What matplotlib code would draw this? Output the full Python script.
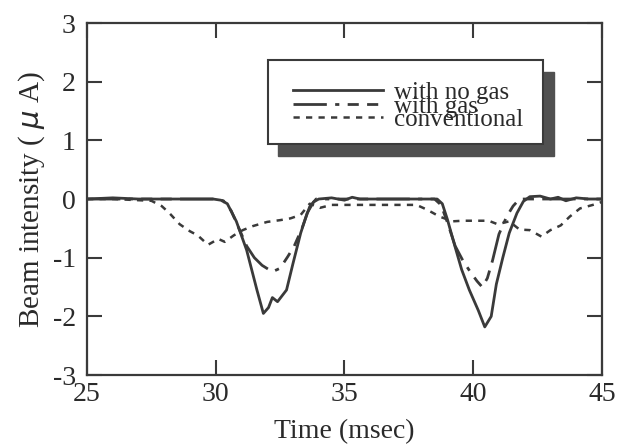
#!/usr/bin/env python3

import matplotlib
matplotlib.use("Agg")
import matplotlib.pyplot as plt
import matplotlib.patches as patches

# data (time in msec, beam intensity in uA)
t_nogas = [25.0, 26.0, 27.0, 28.0, 29.0, 29.9, 30.2, 30.45, 30.8, 31.2, 31.6,
           31.85, 32.05, 32.2, 32.4, 32.75, 33.0, 33.3, 33.55, 33.8, 34.0,
           34.5, 35.0, 35.3, 35.6, 36.0, 37.0, 38.0, 38.6, 38.8, 39.0, 39.3,
           39.55, 39.85, 40.2, 40.45, 40.7, 40.9, 41.15, 41.4, 41.7, 41.95,
           42.2, 42.6, 43.0, 43.3, 43.6, 44.0, 44.5, 45.0]
y_nogas = [0.0, 0.02, 0.0, 0.0, 0.0, 0.0, -0.02, -0.08, -0.38, -0.87, -1.55,
           -1.95, -1.85, -1.68, -1.75, -1.55, -1.1, -0.58, -0.24, -0.05, 0.0,
           0.02, -0.02, 0.03, 0.0, 0.0, 0.0, 0.0, 0.0, -0.08, -0.35, -0.82,
           -1.2, -1.55, -1.9, -2.18, -2.0, -1.45, -1.0, -0.58, -0.24, -0.04,
           0.04, 0.05, 0.0, 0.03, -0.03, 0.02, 0.0, 0.0]

t_gas = [25.0, 30.0, 30.3, 30.6, 30.9, 31.2, 31.5, 31.8, 32.2, 32.5, 32.8,
         33.05, 33.35, 33.65, 33.9, 35.0, 38.5, 38.75, 39.0, 39.3, 39.6, 39.9,
         40.15, 40.35, 40.55, 40.75, 41.0, 41.3, 41.55, 41.8, 45.0]
y_gas = [0.0, 0.0, -0.03, -0.2, -0.5, -0.8, -1.0, -1.13, -1.24, -1.18, -0.98,
         -0.8, -0.5, -0.13, 0.0, 0.0, 0.0, -0.1, -0.4, -0.8, -1.05, -1.25,
         -1.4, -1.5, -1.35, -1.05, -0.6, -0.3, -0.12, 0.0, 0.0]

t_conv = [25.0, 26.0, 27.0, 27.5, 27.9, 28.2, 28.6, 29.0, 29.3, 29.7, 30.1,
          30.35, 30.7, 31.05, 31.45, 32.0, 32.5, 32.9, 33.3, 33.65, 34.05,
          34.5, 35.0, 36.0, 37.0, 37.8, 38.2, 38.7, 39.2, 39.6, 40.0, 40.6,
          40.95, 41.4, 41.8, 42.2, 42.65, 43.0, 43.4, 43.75, 44.15, 44.65, 45.0]
y_conv = [0.0, 0.0, -0.02, -0.03, -0.12, -0.24, -0.43, -0.55, -0.62, -0.78,
          -0.68, -0.73, -0.62, -0.53, -0.46, -0.39, -0.36, -0.33, -0.27, -0.08,
          -0.15, -0.1, -0.1, -0.1, -0.1, -0.1, -0.18, -0.3, -0.38, -0.37, -0.37,
          -0.37, -0.43, -0.38, -0.52, -0.53, -0.64, -0.53, -0.45, -0.3, -0.16,
          -0.1, -0.05]

labels = ["with no gas", "with gas", "conventional"]
x_ticks = [25, 30, 35, 40, 45]
y_ticks = [-3, -2, -1, 0, 1, 2, 3]

# set font
plt.rcParams['font.family'] = 'serif'
plt.rcParams['font.serif'] = ['Liberation Serif']
plt.rcParams['axes.unicode_minus'] = False

INK = '#3a3a3a'
TXT = '#2a2a2a'

fig = plt.figure(figsize=(6.31, 4.47), dpi=100)
ax = fig.add_axes([0.1379, 0.161, 0.816, 0.7875])

ax.plot(t_nogas, y_nogas, color=INK, linewidth=2.0, label=labels[0])
ax.plot(t_gas, y_gas, color=INK, linewidth=2.0, label=labels[1],
        dashes=(12, 3, 1.5, 3, 4, 3, 4, 3))
ax.plot(t_conv, y_conv, color=INK, linewidth=1.8, label=labels[2],
        dashes=(2.5, 2.5))

ax.set_xlim(25, 45)
ax.set_ylim(-3, 3)
ax.set_xticks(x_ticks)
ax.set_yticks(y_ticks)

ax.tick_params(direction='in', length=11, width=1.5, color=INK,
               top=True, right=True, labelsize=20, labelcolor=TXT)
ax.tick_params(axis='y', pad=8)
ax.tick_params(axis='x', pad=5)
for s in ax.spines.values():
    s.set_linewidth(1.6)
    s.set_color(INK)

ax.set_xlabel("Time (msec)", fontsize=20, color=TXT, labelpad=9)
ax.set_ylabel("Beam intensity ( $\\mu$ A)", fontsize=21, color=TXT,
              labelpad=4)

# legend box with a heavy drop shadow
bx, by, bw, bh = 0.351, 0.655, 0.535, 0.24
shadow = patches.Rectangle((bx + 0.02, by - 0.033), bw, bh,
                           transform=ax.transAxes, facecolor='#505050',
                           edgecolor='#505050', zorder=4)
frame = patches.Rectangle((bx, by), bw, bh, transform=ax.transAxes,
                          facecolor='white', edgecolor=INK, linewidth=1.5,
                          zorder=5)
ax.add_patch(shadow)
ax.add_patch(frame)

leg = ax.legend(loc='center', bbox_to_anchor=(bx + bw / 2 + 0.005, by + bh / 2 - 0.012),
                frameon=False, fontsize=18, labelspacing=-0.36,
                handlelength=3.6, handletextpad=0.45, borderpad=0)
leg.set_zorder(6)
for txt in leg.get_texts():
    txt.set_color(TXT)

plt.savefig("out.png", dpi=100)
